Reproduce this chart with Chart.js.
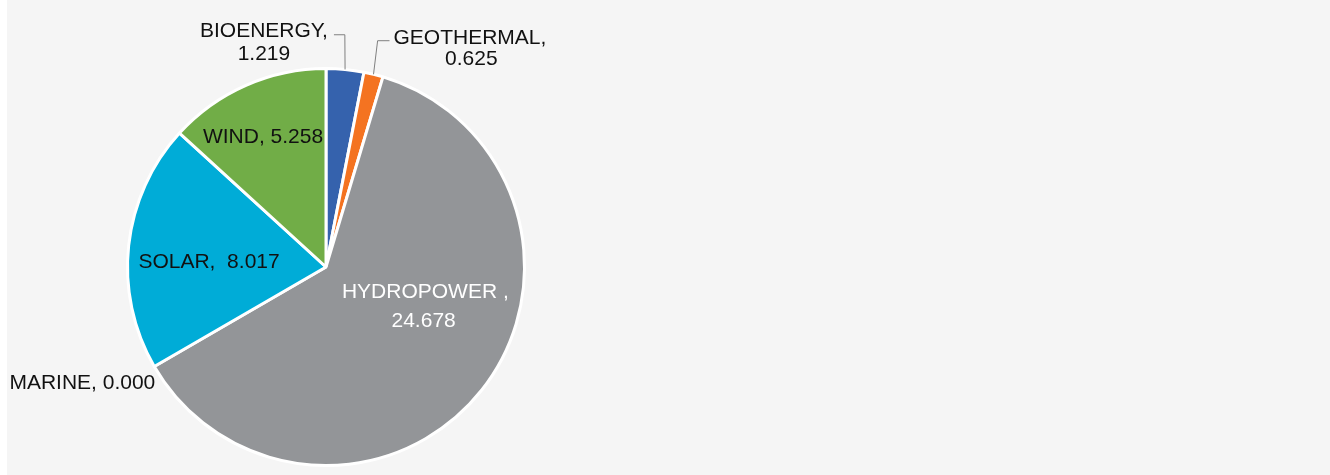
<!DOCTYPE html>
<html>
<head>
<meta charset="utf-8">
<title>Renewable capacity by technology</title>
<script src="https://cdn.jsdelivr.net/npm/chart.js"></script>
<style>
  html, body { margin: 0; padding: 0; background: #ffffff; }
  #panel { position: absolute; left: 7px; top: 0; width: 1323px; height: 475px; background: #f5f5f5; }
  #wrap { position: absolute; left: 0; top: 0; width: 1330px; height: 475px; }
</style>
</head>
<body>
<div id="panel"></div>
<div id="wrap"><canvas id="pie" width="1330" height="475"></canvas></div>
<script>
// data
const categories = ["BIOENERGY", "GEOTHERMAL", "HYDROPOWER", "MARINE", "SOLAR", "WIND"];
const capacity = [1.219, 0.625, 24.678, 0.000, 8.017, 5.258];
const sliceColors = ["#3562ad", "#f47321", "#939598", "#2e75b6", "#00acd7", "#71ad47"];

// label layout, offsets are in multiples of the pie radius from its centre
const labelLayout = [
  { sep: ",", split: true, pos: [[-0.635, -1.16], [-0.445, -1.045]], leader: [[0.095, -1.17], [0.04, -1.17]], color: "#111" },
  { sep: ",", split: true, pos: [[0.34, -1.125], [0.6, -1.02]], leader: [[0.26, -1.14], [0.32, -1.14]], color: "#111" },
  { sep: " ,", split: true, pos: [[0.08, 0.155], [0.33, 0.30]], color: "#ffffff" },
  { sep: ", ", pos: [[-1.595, 0.615]], color: "#111" },
  { sep: ",  ", pos: [[-0.945, 0.005]], color: "#111" },
  { sep: ", ", pos: [[-0.62, -0.625]], color: "#111" }
];

// draws the data labels and leader lines next to each slice
const sliceLabels = {
  id: "sliceLabels",
  afterDatasetsDraw(chart) {
    const ctx = chart.ctx;
    const arcs = chart.getDatasetMeta(0).data;
    ctx.save();
    ctx.font = '21px "Liberation Sans", Arial, sans-serif';
    ctx.textAlign = "left";
    ctx.textBaseline = "alphabetic";
    arcs.forEach((arc, i) => {
      const lay = labelLayout[i];
      const { x, y, outerRadius: r, startAngle, endAngle } = arc.getProps(["x", "y", "outerRadius", "startAngle", "endAngle"], true);
      const value = capacity[i].toFixed(3);
      const lines = lay.split ? [categories[i] + lay.sep, value] : [categories[i] + lay.sep + value];

      if (lay.leader) {
        const mid = (startAngle + endAngle) / 2;
        ctx.strokeStyle = "#7f7f7f";
        ctx.lineWidth = 1;
        ctx.beginPath();
        ctx.moveTo(x + Math.cos(mid) * r, y + Math.sin(mid) * r);
        lay.leader.forEach(p => ctx.lineTo(x + p[0] * r, y + p[1] * r));
        ctx.stroke();
      }

      ctx.fillStyle = lay.color;
      lines.forEach((t, k) => {
        ctx.fillText(t, x + lay.pos[k][0] * r, y + lay.pos[k][1] * r);
      });
    });
    ctx.restore();
  }
};

new Chart(document.getElementById("pie"), {
  type: "pie",
  data: {
    labels: categories,
    datasets: [{
      data: capacity,
      backgroundColor: sliceColors,
      borderColor: "#ffffff",
      borderWidth: 3
    }]
  },
  options: {
    responsive: false,
    animation: false,
    layout: { padding: { left: 126, top: 67, right: 804, bottom: 8 } },
    plugins: {
      legend: { display: false },
      tooltip: { enabled: false }
    }
  },
  plugins: [sliceLabels]
});
</script>
</body>
</html>
